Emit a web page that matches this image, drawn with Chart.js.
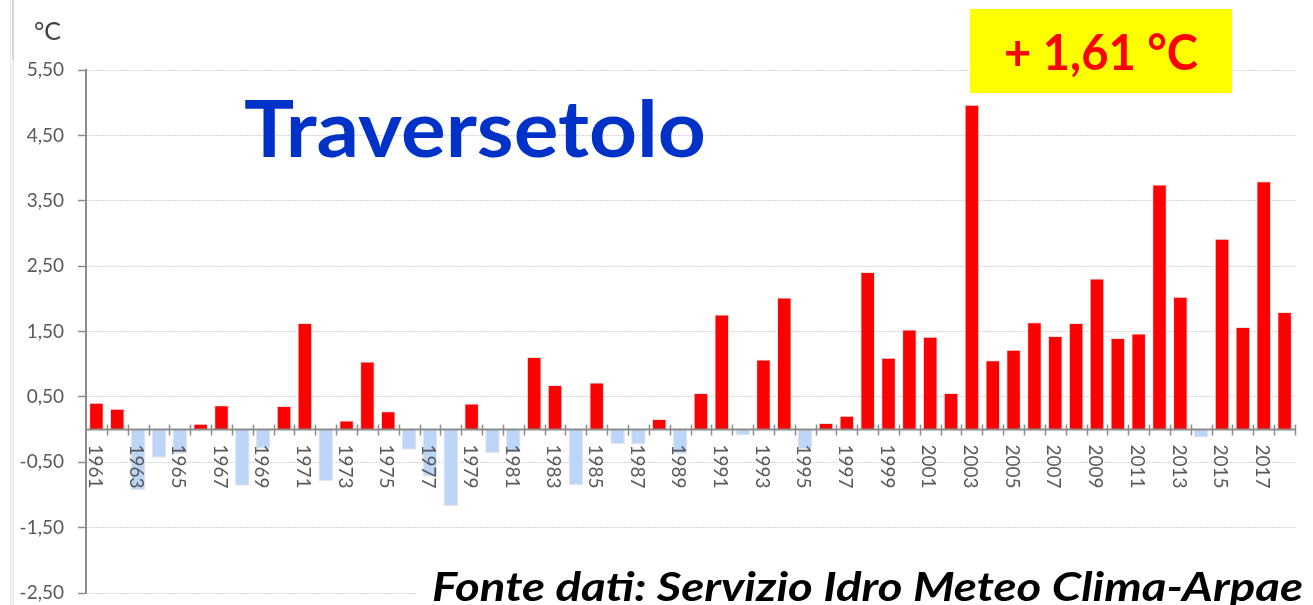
<!DOCTYPE html>
<html>
<head>
<meta charset="utf-8">
<script src="https://cdn.jsdelivr.net/npm/chart.js@4.4.1/dist/chart.umd.min.js"></script>
<style>
  html, body { margin: 0; padding: 0; background: #ffffff; }
  #wrap { width: 1313px; height: 605px; position: relative; }
  canvas { display: block; }
</style>
</head>
<body>
<div id="wrap"><canvas id="c" width="1313" height="605"></canvas></div>
<script>
// ---- data ----
const years = ['1961','1962','1963','1964','1965','1966','1967','1968','1969','1970',
  '1971','1972','1973','1974','1975','1976','1977','1978','1979','1980',
  '1981','1982','1983','1984','1985','1986','1987','1988','1989','1990',
  '1991','1992','1993','1994','1995','1996','1997','1998','1999','2000',
  '2001','2002','2003','2004','2005','2006','2007','2008','2009','2010',
  '2011','2012','2013','2014','2015','2016','2017','2018'];
const anomalies = [0.41, 0.32, -0.93, -0.43, -0.37, 0.09, 0.37, -0.86, -0.29, 0.36,
  1.63, -0.79, 0.14, 1.04, 0.28, -0.31, -0.71, -1.17, 0.40, -0.36,
  -0.35, 1.11, 0.68, -0.85, 0.72, -0.22, -0.23, 0.16, -0.37, 0.56,
  1.76, -0.09, 1.07, 2.02, -0.30, 0.10, 0.21, 2.41, 1.10, 1.53,
  1.42, 0.56, 4.97, 1.06, 1.22, 1.64, 1.43, 1.63, 2.31, 1.40,
  1.47, 3.75, 2.03, -0.12, 2.92, 1.57, 3.80, 1.80];
const xTickLabels = ['1961','1963','1965','1967','1969','1971','1973','1975','1977','1979',
  '1981','1983','1985','1987','1989','1991','1993','1995','1997','1999',
  '2001','2003','2005','2007','2009','2011','2013','2015','2017'];
const yTickValues = [-2.5, -1.5, -0.5, 0.5, 1.5, 2.5, 3.5, 4.5, 5.5];
const unitLabel = '°C';
const stationName = 'Traversetolo';
const trendLabel = '+ 1,61 °C';
const sourceLabel = 'Fonte dati: Servizio Idro Meteo Clima-Arpae';

const POS = '#FF0000';
const NEG = '#BDD6F8';
const AXIS = '#8C8C8C';
const TXT = '#595959';

function fitText(ctx, text, x, y, targetWidth) {
  const w = ctx.measureText(text).width;
  ctx.save();
  ctx.translate(x, y);
  ctx.scale(targetWidth / w, 1);
  ctx.fillText(text, 0, 0);
  ctx.restore();
}

const overlay = {
  id: 'overlay',
  beforeDraw(chart) {
    const ctx = chart.ctx;
    ctx.save();
    ctx.fillStyle = '#ffffff';
    ctx.fillRect(0, 0, chart.width, chart.height);
    ctx.fillStyle = '#e2e2e2';
    ctx.fillRect(10, 0, 1, chart.height);
    ctx.fillStyle = '#d6d6d6';
    ctx.fillRect(12, 0, 2, 60);
    ctx.fillStyle = '#ececec';
    ctx.fillRect(12, 60, 2, chart.height - 60);
    ctx.restore();
  },
  afterDatasetsDraw(chart) {
    const ctx = chart.ctx;
    const xs = chart.scales.x, ys = chart.scales.y;
    const y0 = ys.getPixelForValue(0);
    const left = chart.chartArea.left, right = chart.chartArea.right;
    ctx.save();
    ctx.strokeStyle = AXIS;
    ctx.lineWidth = 2;
    ctx.beginPath();
    ctx.moveTo(left, y0);
    ctx.lineTo(right, y0);
    ctx.stroke();
    ctx.lineWidth = 1.5;
    const n = years.length;
    const w = (right - left) / n;
    for (let i = 1; i <= n; i++) {
      const px = Math.round(xs.getPixelForValue(i - 1) + w / 2) + 0.5;
      ctx.beginPath();
      ctx.moveTo(px, y0 - 5);
      ctx.lineTo(px, y0 + 6);
      ctx.stroke();
    }
    ctx.fillStyle = TXT;
    ctx.font = '19px Lato';
    ctx.textAlign = 'left';
    ctx.textBaseline = 'alphabetic';
    xTickLabels.forEach(lab => {
      const idx = years.indexOf(lab);
      const px = xs.getPixelForValue(idx) - 1;
      ctx.save();
      ctx.translate(px, y0 + 15);
      ctx.rotate(Math.PI / 2);
      ctx.fillText(lab, 0, 6.8);
      ctx.restore();
    });
    ctx.restore();
  },
  afterDraw(chart) {
    const ctx = chart.ctx;
    ctx.save();
    ctx.textBaseline = 'alphabetic';
    ctx.textAlign = 'left';
    ctx.fillStyle = '#404040';
    ctx.font = '25px Lato';
    ctx.fillText(unitLabel, 34, 40);
    ctx.fillStyle = '#0032C8';
    ctx.font = 'bold 79px Lato';
    fitText(ctx, stationName, 244, 157, 462);
    ctx.fillStyle = '#FFFF00';
    ctx.fillRect(970, 9, 262, 84);
    ctx.fillStyle = '#FF0000';
    ctx.font = 'bold 49px Lato';
    fitText(ctx, trendLabel, 1004, 70, 194);
    ctx.fillStyle = '#ffffff';
    ctx.fillRect(416, 560, 897, 45);
    ctx.fillStyle = '#000000';
    ctx.font = 'italic bold 41px Lato';
    fitText(ctx, sourceLabel, 432, 601, 871);
    ctx.restore();
  }
};

new Chart(document.getElementById('c'), {
  type: 'bar',
  data: {
    labels: years,
    datasets: [{
      data: anomalies,
      backgroundColor: ctx => (ctx.raw >= 0 ? POS : NEG),
      borderColor: 'rgba(225,225,225,0.9)',
      borderWidth: 1,
      borderSkipped: 'start',
      categoryPercentage: 1.0,
      barPercentage: 0.7
    }]
  },
  options: {
    responsive: false,
    devicePixelRatio: 1,
    animation: false,
    events: [],
    layout: { padding: { left: 0, top: 70, right: 18, bottom: 12 } },
    plugins: { legend: { display: false }, tooltip: { enabled: false }, title: { display: false } },
    scales: {
      x: {
        display: false,
        offset: true
      },
      y: {
        min: -2.5,
        max: 5.5,
        afterBuildTicks: scale => { scale.ticks = yTickValues.map(v => ({ value: v })); },
        afterFit: scale => { scale.width = 86; scale.paddingTop = 0; scale.paddingBottom = 0; },
        ticks: {
          color: TXT,
          font: { family: 'Lato', size: 19 },
          padding: 14,
          callback: v => Number(v).toFixed(2).replace('.', ',')
        },
        grid: {
          color: '#d4d4d4',
          lineWidth: 1,
          tickColor: AXIS,
          tickLength: 8,
          tickWidth: 1.5,
          drawTicks: true
        },
        border: { display: true, color: AXIS, width: 2, dash: [2, 1] }
      }
    }
  },
  plugins: [overlay]
});
</script>
</body>
</html>
